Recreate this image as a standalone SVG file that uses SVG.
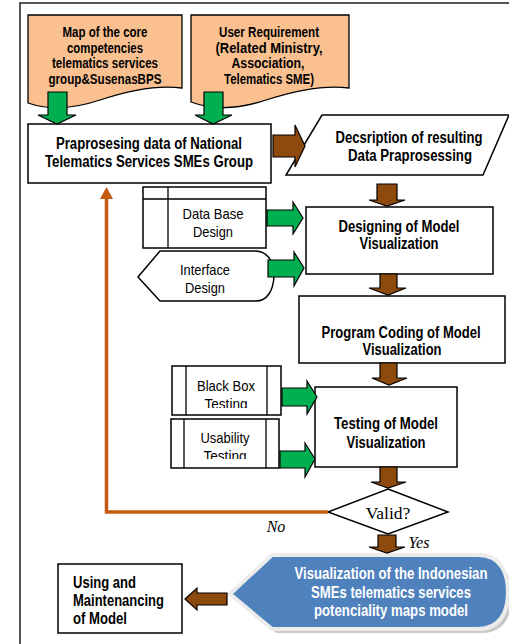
<svg xmlns="http://www.w3.org/2000/svg" width="509" height="644" viewBox="0 0 509 644">
<style>
.box{fill:#fff;stroke:#000;stroke-width:1.5}
.doc{fill:#FAC090;stroke:#000;stroke-width:1.3}
.g{fill:#00B050;stroke:#000;stroke-width:1.2}
.b{fill:#8E4A0C;stroke:#000;stroke-width:1.2}
.t{font-family:"Liberation Sans",Arial,sans-serif;font-size:15px;fill:#000;text-anchor:middle}
.bd{font-weight:bold;font-size:16px}
.dt{font-weight:bold;font-size:14px}
.w{fill:#fff;font-size:16.5px}
.u{text-anchor:start;font-size:17px}
.s{font-family:"Liberation Serif","Times New Roman",serif;fill:#000;text-anchor:middle}
</style>
<defs>
<clipPath id="c1"><rect x="186" y="366" width="81" height="42"/></clipPath>
<clipPath id="c2"><rect x="184" y="419" width="82" height="40"/></clipPath>
</defs>
<rect width="509" height="644" fill="#fff"/>
<g id="frame" fill="none" stroke="#555" stroke-width="2">
<path d="M19,3 H509"/>
<path d="M20,3 V644"/>
</g>

<g id="doc1">
<path class="doc" d="M28,15 H182 V88 C160,85 130,90 100,100 C70,110 45,109 28,103 Z"/>
<text class="t dt" x="105" y="37" textLength="85" lengthAdjust="spacingAndGlyphs">Map of the core</text>
<text class="t dt" x="105" y="52.5" textLength="76" lengthAdjust="spacingAndGlyphs">competencies</text>
<text class="t dt" x="105" y="68" textLength="106" lengthAdjust="spacingAndGlyphs">telematics services</text>
<text class="t dt" x="105" y="83.5" textLength="113" lengthAdjust="spacingAndGlyphs">group&amp;SusenasBPS</text>
</g>
<g id="doc2">
<path class="doc" d="M191,15 H349 V88 C327,85 297,90 266,100 C236,110 210,109 191,102 Z"/>
<text class="t dt" x="269" y="37" textLength="100" lengthAdjust="spacingAndGlyphs">User Requirement</text>
<text class="t dt" x="269" y="52.5" textLength="107" lengthAdjust="spacingAndGlyphs">(Related Ministry,</text>
<text class="t dt" x="268" y="68" textLength="73" lengthAdjust="spacingAndGlyphs">Association,</text>
<text class="t dt" x="269" y="83.5" textLength="90" lengthAdjust="spacingAndGlyphs">Telematics SME)</text>
</g>

<g id="prapro">
<rect class="box" x="28" y="124" width="243" height="59"/>
<text class="t bd" x="149" y="148.5" textLength="186" lengthAdjust="spacingAndGlyphs">Praprosesing data of National</text>
<text class="t bd" x="149" y="167" textLength="208" lengthAdjust="spacingAndGlyphs">Telematics Services SMEs Group</text>
</g>

<g id="desc">
<path class="box" d="M322,115 H509 L483,175 H286 Z"/>
<text class="t bd" x="409" y="142.5" textLength="147" lengthAdjust="spacingAndGlyphs">Decsription of resulting</text>
<text class="t bd" x="410" y="161" textLength="124" lengthAdjust="spacingAndGlyphs">Data Praprosessing</text>
</g>

<g id="database">
<rect class="box" x="143" y="187" width="123" height="61"/>
<path d="M168,187 V248 M143,199 H266" stroke="#000" stroke-width="1.3" fill="none"/>
<text class="t" x="213" y="218.5" textLength="61" lengthAdjust="spacingAndGlyphs">Data Base</text>
<text class="t" x="213" y="237" textLength="40" lengthAdjust="spacingAndGlyphs">Design</text>
</g>

<g id="interface">
<path class="box" d="M138,277 L160,251 H256 C270,252 275,266 274,277 C273,291 267,301 256,301 H160 Z"/>
<text class="t" x="205" y="274.5" textLength="50" lengthAdjust="spacingAndGlyphs">Interface</text>
<text class="t" x="205" y="292.5" textLength="40" lengthAdjust="spacingAndGlyphs">Design</text>
</g>

<g id="designing">
<rect class="box" x="306" y="207" width="187" height="67"/>
<text class="t bd" x="399" y="231.5" textLength="121" lengthAdjust="spacingAndGlyphs">Designing of Model</text>
<text class="t bd" x="399" y="249" textLength="79" lengthAdjust="spacingAndGlyphs">Visualization</text>
</g>

<g id="coding">
<rect class="box" x="299" y="296" width="206" height="67"/>
<text class="t bd" x="401" y="337.5" textLength="159" lengthAdjust="spacingAndGlyphs">Program Coding of Model</text>
<text class="t bd" x="402" y="355" textLength="79" lengthAdjust="spacingAndGlyphs">Visualization</text>
</g>

<g id="blackbox">
<rect class="box" x="172" y="366" width="109" height="49"/>
<path d="M186,366 V415 M267,366 V415" stroke="#000" stroke-width="1.3"/>
<text class="t" x="226" y="390.5" textLength="58" lengthAdjust="spacingAndGlyphs">Black Box</text>
<text class="t" x="226" y="408.5" textLength="43" lengthAdjust="spacingAndGlyphs" clip-path="url(#c1)">Testing</text>
</g>

<g id="usability">
<rect class="box" x="171" y="419" width="108" height="49"/>
<path d="M184,419 V468 M266,419 V468" stroke="#000" stroke-width="1.3"/>
<text class="t" x="225" y="442.5" textLength="49" lengthAdjust="spacingAndGlyphs">Usability</text>
<text class="t" x="225" y="460.5" textLength="43" lengthAdjust="spacingAndGlyphs" clip-path="url(#c2)">Testing</text>
</g>

<g id="testing">
<rect class="box" x="315" y="387" width="142" height="80"/>
<text class="t bd" x="386" y="428.5" textLength="104" lengthAdjust="spacingAndGlyphs">Testing of Model</text>
<text class="t bd" x="386" y="447.5" textLength="79" lengthAdjust="spacingAndGlyphs">Visualization</text>
</g>

<g id="valid">
<path class="box" d="M388,489 L448,512 L388,534 L328,512 Z"/>
<text class="s" x="388" y="519" font-size="17.5">Valid?</text>
</g>

<g id="visual">
<path d="M234,598 L276,560 H482 C506,560 512,579 512,596 C512,616 504,633 482,633 H276 Z" fill="#c9c9c9"/>
<path d="M230,594 L272,555 H478 C502,555 508,575 508,592 C508,612 500,629 478,629 H272 Z" fill="#4F81BD" stroke="#ececec" stroke-width="4"/>
<text class="t bd w" x="391" y="579" textLength="193" lengthAdjust="spacingAndGlyphs">Visualization of the Indonesian</text>
<text class="t bd w" x="391" y="597.5" textLength="160" lengthAdjust="spacingAndGlyphs">SMEs telematics services</text>
<text class="t bd w" x="391" y="616" textLength="154" lengthAdjust="spacingAndGlyphs">potenciality maps model</text>
</g>

<g id="using">
<rect class="box" x="58" y="564" width="124" height="69"/>
<text class="t bd u" x="73" y="588" textLength="63" lengthAdjust="spacingAndGlyphs">Using and</text>
<text class="t bd u" x="73" y="606" textLength="91" lengthAdjust="spacingAndGlyphs">Maintenancing</text>
<text class="t bd u" x="73" y="624" textLength="54" lengthAdjust="spacingAndGlyphs">of Model</text>
</g>

<g id="connectors">
<path class="g" d="M48,92 H67 V115 H76 L57,124 L38,115 H48 Z"/>
<path class="g" d="M204,92 H223 V115 H232 L213,124 L195,115 H204 Z"/>
<path class="b" d="M273,135 H295 V125 L305,146 L295,167 V157 H273 Z"/>
<path class="b" d="M377,184 H397 V200 H405 L387,206 L369,200 H377 Z"/>
<path class="g" d="M267,210 H293 V202 L303,218 L293,234 V226 H267 Z"/>
<path class="g" d="M268,260 H294 V252 L304,268 L294,286 V277 H268 Z"/>
<path class="b" d="M380,274 H397 V288 H406 L388,295 L369,288 H380 Z"/>
<path class="b" d="M380,363 H397 V378 H407 L389,385 L372,378 H380 Z"/>
<path class="g" d="M282,388 H307 V381 L317,397 L307,414 V406 H282 Z"/>
<path class="g" d="M280,451 H305 V443 L315,459 L305,477 V468 H280 Z"/>
<path class="b" d="M380,467 H397 V482 H406 L388,488 L371,482 H380 Z"/>
<path class="b" d="M378,535 H396 V547 H405 L387,553 L369,547 H378 Z"/>
<path class="b" d="M227,593 H197 V588 L185,599 L197,610 V605 H227 Z"/>
<path d="M328,512 H106.5 V197" fill="none" stroke="#C55A11" stroke-width="3.5"/>
<path d="M100,199 H113 L106.5,187 Z" fill="#C55A11"/>
<text class="s" x="276" y="532" font-size="16" font-style="italic">No</text>
<text class="s" x="419" y="548" font-size="16" font-style="italic">Yes</text>
</g>
</svg>
